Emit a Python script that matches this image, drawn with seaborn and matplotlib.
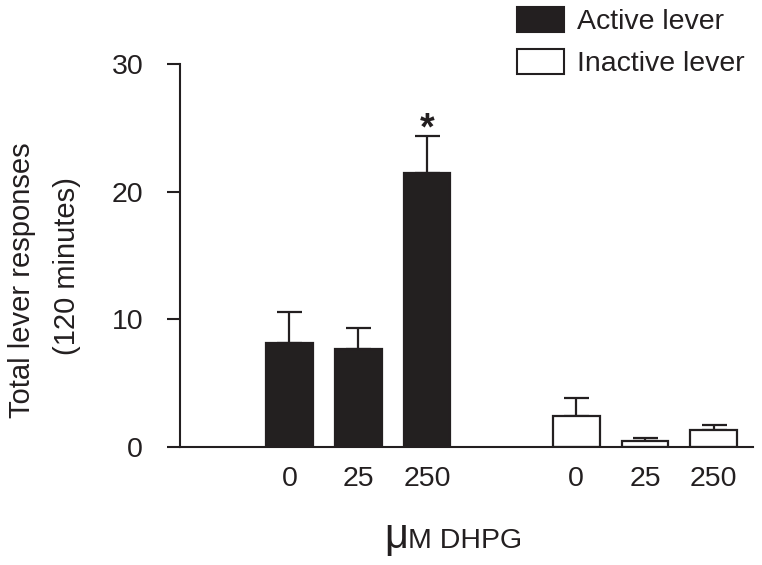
import numpy as np
import matplotlib
matplotlib.use("Agg")
import matplotlib.pyplot as plt
from matplotlib.patches import Patch
import pandas as pd
import seaborn as sns

# data
doses = ["0", "25", "250"]
active_mean = [8.15, 7.65, 21.5]
active_sem = [2.45, 1.7, 2.9]
inactive_mean = [2.4, 0.5, 1.35]
inactive_sem = [1.45, 0.2, 0.4]

sns.set_style("ticks")
plt.rcParams['font.family'] = ['Liberation Sans', 'DejaVu Sans']

dark = "#231f20"
xpos = [0, 1, 2, 4.17, 5.17, 6.17]
df = pd.DataFrame({
    "pos": xpos,
    "mean": active_mean + inactive_mean,
    "sem": active_sem + inactive_sem,
    "lever": ["Active lever"] * 3 + ["Inactive lever"] * 3,
})

fig = plt.figure(figsize=(7.62, 5.65), dpi=100)
ax = fig.add_axes([180 / 762, 1 - 447 / 565, 573 / 762, (447 - 64.3) / 565])

# error bars first so the bars hide the lower half
ax.errorbar(df["pos"], df["mean"], yerr=[np.zeros(len(df)), df["sem"]],
            fmt="none", ecolor=dark, elinewidth=1.6, capsize=9, capthick=1.6, zorder=1)

sns.barplot(data=df, x="pos", y="mean", hue="lever", native_scale=True, dodge=False,
            palette={"Active lever": dark, "Inactive lever": "white"},
            width=0.68, edgecolor=dark, linewidth=1.6, errorbar=None, legend=False,
            ax=ax, zorder=2)

# significance star
ax.text(2, 24.9, "*", ha="center", va="center", fontsize=27, fontweight="bold", color=dark)

ax.set_xlim(-1.592, 6.74)
ax.set_ylim(0, 30)
ax.set_yticks([0, 10, 20, 30])
ax.set_xticks(xpos)
ax.set_xticklabels(doses + doses)
ax.tick_params(axis="y", length=9.5, width=1.5, pad=17, labelsize=20.5, colors=dark)
ax.tick_params(axis="x", length=0, pad=14, labelsize=20.5, colors=dark)
ax.set_xlabel("")
ax.set_ylabel("")
for s in ["top", "right"]:
    ax.spines[s].set_visible(False)
for s in ["left", "bottom"]:
    ax.spines[s].set_linewidth(1.5)
    ax.spines[s].set_color(dark)

fig.text(22 / 762, 1 - 280 / 565, "Total lever responses", rotation=90,
         ha="center", va="center", fontsize=21, color=dark)
fig.text(67 / 762, 1 - 266 / 565, "(120 minutes)", rotation=90,
         ha="center", va="center", fontsize=21, color=dark)

fig.text(408 / 762, 1 - 548 / 565, "μ", ha="right", va="baseline", fontsize=30, color=dark)
fig.text(408 / 762, 1 - 548 / 565, "M DHPG", ha="left", va="baseline", fontsize=20.5, color=dark)

handles = [Patch(facecolor=dark, edgecolor=dark, linewidth=1.5),
           Patch(facecolor="white", edgecolor=dark, linewidth=1.5)]
fig.legend(handles, ["Active lever", "Inactive lever"], loc="upper left",
           bbox_to_anchor=(517 / 762, 1 - 7 / 565), frameon=False, fontsize=20.5,
           handlelength=1.65, handleheight=0.95, handletextpad=0.45, labelspacing=0.5,
           borderpad=0, borderaxespad=0, labelcolor=dark)

fig.savefig("out.png", dpi=100)
